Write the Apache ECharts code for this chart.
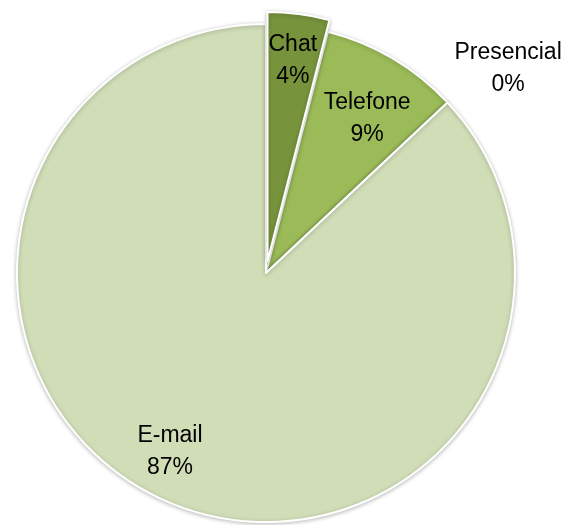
<!DOCTYPE html>
<html><head><meta charset="utf-8">
<script src="https://cdn.jsdelivr.net/npm/echarts@6/dist/echarts.min.js"></script>
<style>html,body{margin:0;padding:0;background:#fff}#c{width:566px;height:525px}</style>
</head><body><div id="c"></div>
<script>
const categories = ['Chat', 'Telefone', 'Presencial', 'E-mail'];
const values = [4, 9, 0, 87];
const percentLabels = ['4%', '9%', '0%', '87%'];
const colors = ['#77933C', '#9BBB59', '#B9CD8F', '#D0DDB7'];
const exploded = [true, false, false, false];
// label placement (Excel best-fit look): radial fraction and angle shift in degrees
const labelRadius = [0.81, 0.74, 1.271, 0.816];
const labelAngleShift = [0, 2.7, 3.1, 4.8];

const cx = 266, cy = 273, R = 249, explodeOffset = 12;
const total = values.reduce((a, b) => a + b, 0);
const mid = [];
let acc = 0;
values.forEach(v => { mid.push((acc + v / 2) / total * 360); acc += v; });

const baseItemStyle = { borderColor: '#fff', borderWidth: 2, shadowBlur: 4, shadowColor: 'rgba(0,0,0,0.25)', shadowOffsetY: 1 };
const hidden = { color: 'rgba(0,0,0,0)', borderWidth: 0, shadowBlur: 0, shadowColor: 'rgba(0,0,0,0)' };

function offsetOf(i) {
  if (!exploded[i]) return [0, 0];
  const a = mid[i] * Math.PI / 180;
  return [Math.sin(a) * explodeOffset, -Math.cos(a) * explodeOffset];
}

function makeSeries(isExplodedLayer) {
  const off = isExplodedLayer ? offsetOf(exploded.indexOf(true)) : [0, 0];
  return {
    type: 'pie',
    center: [cx + off[0], cy + off[1]],
    radius: [0, R],
    startAngle: 90,
    clockwise: true,
    avoidLabelOverlap: false,
    stillShowZeroSum: true,
    silent: true,
    itemStyle: baseItemStyle,
    label: isExplodedLayer ? { show: false } : {
      show: true,
      position: 'inside',
      fontFamily: '"Liberation Sans", Arial, sans-serif',
      fontSize: 23,
      lineHeight: 32,
      color: '#000',
      formatter: p => categories[p.dataIndex] + '\n' + percentLabels[p.dataIndex]
    },
    labelLine: { show: false },
    labelLayout: isExplodedLayer ? undefined : function (p) {
      const i = p.dataIndex;
      const o = offsetOf(i);
      const a = (mid[i] + labelAngleShift[i]) * Math.PI / 180;
      return {
        x: cx + o[0] + Math.sin(a) * R * labelRadius[i],
        y: cy + o[1] - Math.cos(a) * R * labelRadius[i],
        align: 'center', verticalAlign: 'middle'
      };
    },
    emphasis: { disabled: true },
    data: categories.map((c, i) => ({
      name: c, value: values[i],
      itemStyle: (exploded[i] === isExplodedLayer) ? { color: colors[i] } : hidden
    }))
  };
}

const chart = echarts.init(document.getElementById('c'));
chart.setOption({
  animation: false,
  series: [makeSeries(false), makeSeries(true)]
});
</script></body></html>
